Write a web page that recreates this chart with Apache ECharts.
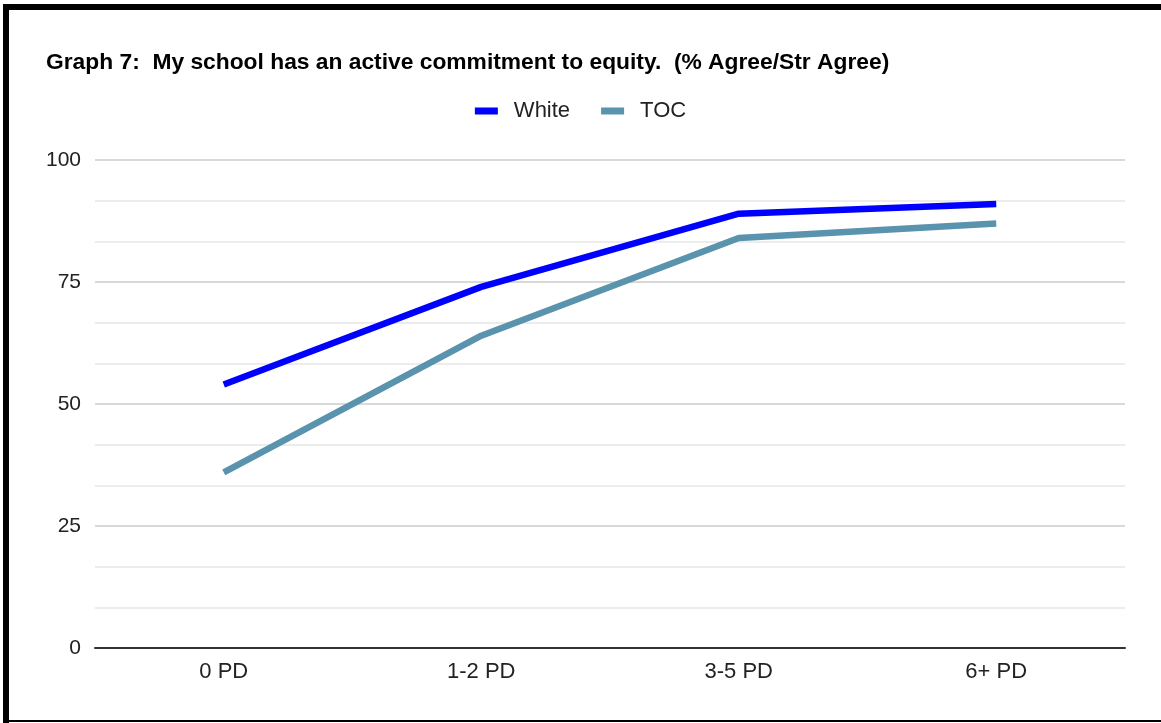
<!DOCTYPE html>
<html>
<head>
<meta charset="utf-8">
<script src="https://cdn.jsdelivr.net/npm/echarts@6/dist/echarts.min.js"></script>
<style>
  html, body { margin: 0; padding: 0; background: #fff; }
  #chart { width: 1161px; height: 723px; }
</style>
</head>
<body>
<div id="chart"></div>
<script>
// Professional development groups on the x axis
const categories = ['0 PD', '1-2 PD', '3-5 PD', '6+ PD'];
// % Agree / Strongly Agree per group
const whiteValues = [54, 74, 89, 91];
const tocValues = [36, 64, 84, 87];
const yTicks = [0, 25, 50, 75, 100];

const FONT = '"Liberation Sans", Arial, sans-serif';

const chart = echarts.init(document.getElementById('chart'), null, { renderer: 'canvas' });

chart.setOption({
  backgroundColor: '#ffffff',
  animation: false,
  textStyle: { fontFamily: FONT },
  title: {
    text: 'Graph 7:  My school has an active commitment to equity.  (% Agree/Str Agree)',
    left: 41,
    top: 46,
    textStyle: { fontFamily: FONT, fontSize: 22.8, fontWeight: 'bold', color: '#000' }
  },
  legend: {
    top: 95,
    left: 'center',
    itemWidth: 23,
    itemHeight: 7,
    itemGap: 31,
    icon: 'rect',
    textStyle: { fontFamily: FONT, fontSize: 22, color: '#222', padding: [0, 0, 0, 11] },
    data: ['White', 'TOC']
  },
  grid: { left: 95, right: 36, top: 160, bottom: 75, containLabel: false },
  xAxis: {
    type: 'category',
    data: categories,
    boundaryGap: true,
    axisLine: { show: true, lineStyle: { color: '#333', width: 2 } },
    axisTick: { show: false },
    axisLabel: { fontFamily: FONT, fontSize: 22, color: '#222', margin: 13 }
  },
  yAxis: {
    type: 'value',
    min: yTicks[0],
    max: yTicks[yTicks.length - 1],
    interval: 25,
    axisLine: { show: false },
    axisTick: { show: false },
    axisLabel: { fontFamily: FONT, fontSize: 21, color: '#222', margin: 14 },
    splitLine: { show: true, lineStyle: { color: '#cccccc', width: 1.5 } },
    minorTick: { show: false, splitNumber: 3 },
    minorSplitLine: { show: true, lineStyle: { color: '#e6e6e6', width: 1.5 } }
  },
  series: [
    {
      name: 'White',
      type: 'line',
      data: whiteValues,
      symbol: 'none',
      color: '#0000ff',
      lineStyle: { width: 6.5, color: '#0000ff', cap: 'butt' },
      z: 3
    },
    {
      name: 'TOC',
      type: 'line',
      data: tocValues,
      symbol: 'none',
      color: '#5a93ad',
      lineStyle: { width: 6.5, color: '#5a93ad', cap: 'butt' },
      z: 2
    }
  ],
  graphic: [
    // frame around the chart: heavy left and top edges, thin bottom edge
    { type: 'rect', shape: { x: 3, y: 4, width: 6, height: 719 }, style: { fill: '#000' }, silent: true },
    { type: 'rect', shape: { x: 3, y: 4, width: 1158, height: 6 }, style: { fill: '#000' }, silent: true },
    { type: 'rect', shape: { x: 3, y: 720, width: 1158, height: 2 }, style: { fill: '#000' }, silent: true }
  ]
});
</script>
</body>
</html>
